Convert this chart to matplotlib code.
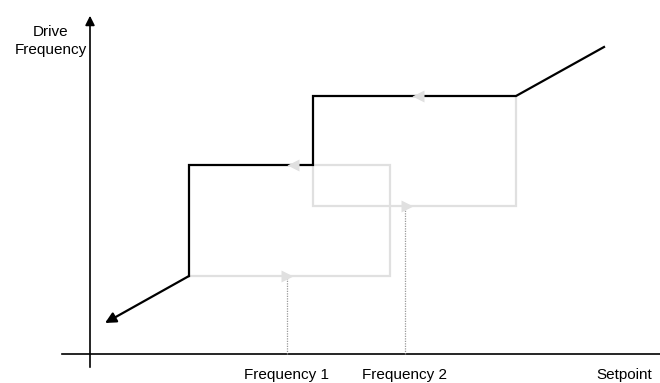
import matplotlib
matplotlib.use("Agg")
import matplotlib.pyplot as plt

plt.rcParams['font.family'] = ['Liberation Sans', 'DejaVu Sans']

# Operating path (setpoint -> drive frequency), black
path_x = [15, 99, 99, 223, 223, 426, 514]
path_y = [31, 78, 189, 189, 258, 258, 307]

# Hysteresis loop, light gray
loop_x = [99, 300, 300, 223, 223, 426, 426]
loop_y = [78, 78, 189, 189, 148, 148, 258]

# Direction markers on the loop
right_marks_x = [197, 317]
right_marks_y = [78, 148]
left_marks_x = [203, 328]
left_marks_y = [189, 258]

# Skip frequencies
skip_x = [197, 315]
skip_top = [78, 145]
skip_labels = ["Frequency 1", "Frequency 2"]

fig = plt.figure(figsize=(6.6, 3.83), dpi=100)
ax = fig.add_axes([0, 0, 1, 1])
ax.set_xlim(-90, 570)
ax.set_ylim(-29, 354)
ax.axis("off")

# axes
ax.plot([-28, 570], [0, 0], color="black", lw=1.2)
ax.annotate("", xy=(0, 341), xytext=(0, -16),
            arrowprops=dict(arrowstyle="-|>", color="black", lw=1.2, mutation_scale=14))

# dotted skip lines
for x, top in zip(skip_x, skip_top):
    ax.plot([x, x], [0, top], color="#999999", lw=0.9, linestyle=(0, (1, 1)))

# gray loop
ax.plot(loop_x, loop_y, color="#e0e0e0", lw=1.6, solid_joinstyle="miter")

# black path
ax.plot(path_x[1:], path_y[1:], color="black", lw=1.6, solid_joinstyle="miter")
ax.annotate("", xy=(path_x[0], path_y[0]), xytext=(path_x[1], path_y[1]),
            arrowprops=dict(arrowstyle="-|>", color="black", lw=1.6, mutation_scale=16,
                            shrinkA=0, shrinkB=0))

ax.plot(right_marks_x, right_marks_y, ">", color="#e0e0e0", ms=8, mec="none")
ax.plot(left_marks_x, left_marks_y, "<", color="#e0e0e0", ms=8, mec="none")

# labels
for x, lab in zip(skip_x, skip_labels):
    ax.text(x, -21, lab, ha="center", va="center", fontsize=11)
ax.text(534, -21, "Setpoint", ha="center", va="center", fontsize=11)
ax.text(-39, 313, "Drive\nFrequency", ha="center", va="center", fontsize=11,
        linespacing=1.35)

fig.savefig("out.png", dpi=100)
